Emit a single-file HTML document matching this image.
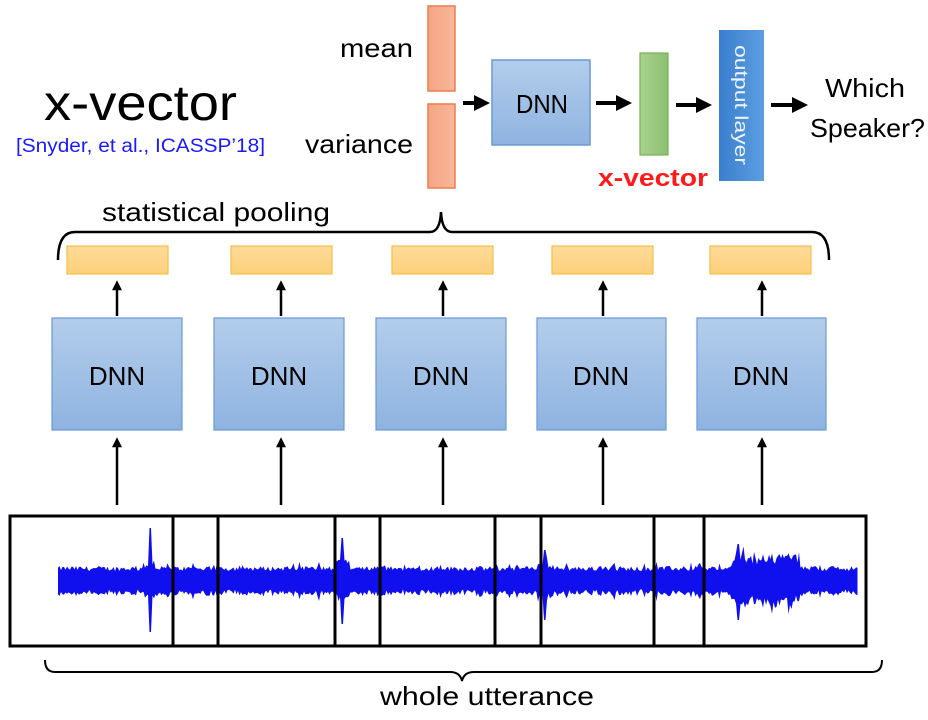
<!DOCTYPE html>
<html><head><meta charset="utf-8"><style>
body{margin:0;background:#fff}
svg{display:block}
text{font-family:"Liberation Sans",sans-serif}
</style></head><body>
<svg width="928" height="720" viewBox="0 0 928 720" xmlns="http://www.w3.org/2000/svg">
<defs>
<linearGradient id="bl" x1="0" y1="0" x2="0" y2="1"><stop offset="0" stop-color="#b3cdeb"/><stop offset="1" stop-color="#8fb3e0"/></linearGradient>
<linearGradient id="or" x1="0" y1="0" x2="1" y2="0"><stop offset="0" stop-color="#f4a582"/><stop offset="1" stop-color="#f8b79a"/></linearGradient>
<linearGradient id="gr" x1="0" y1="0" x2="1" y2="0"><stop offset="0" stop-color="#a9d18e"/><stop offset="1" stop-color="#8cc070"/></linearGradient>
<linearGradient id="ob" x1="0" y1="0" x2="1" y2="0"><stop offset="0" stop-color="#3a7fcf"/><stop offset="1" stop-color="#5c9ee0"/></linearGradient>
<linearGradient id="ye" x1="0" y1="0" x2="0" y2="1"><stop offset="0" stop-color="#fedb9a"/><stop offset="1" stop-color="#fdd07a"/></linearGradient>
<marker id="ah" markerWidth="4" markerHeight="4" refX="2.5" refY="2" orient="auto" markerUnits="strokeWidth"><path d="M0,0 L4,2 L0,4 z" fill="#000"/></marker>
</defs>

<text x="44" y="120" font-size="50" textLength="193" lengthAdjust="spacingAndGlyphs">x-vector</text>
<text x="16" y="152" font-size="19" fill="#1a1aff" textLength="249" lengthAdjust="spacingAndGlyphs">[Snyder, et al., ICASSP’18]</text>
<text x="340" y="57" font-size="26" textLength="73" lengthAdjust="spacingAndGlyphs">mean</text>
<text x="305" y="153" font-size="26" textLength="108" lengthAdjust="spacingAndGlyphs">variance</text>

<rect x="428" y="6" width="27" height="85" fill="url(#or)" stroke="#ed7d4f" stroke-width="1.5"/>
<rect x="428" y="104" width="27" height="84" fill="url(#or)" stroke="#ed7d4f" stroke-width="1.5"/>
<rect x="492" y="60" width="98" height="85" fill="url(#bl)" stroke="#6a9ad6" stroke-width="1.5"/>
<text x="516" y="113" font-size="26" textLength="52" lengthAdjust="spacingAndGlyphs">DNN</text>
<rect x="640" y="53" width="28" height="102" fill="url(#gr)" stroke="#78b05a" stroke-width="1.2"/>
<rect x="719" y="30" width="45" height="151" fill="url(#ob)"/>
<text x="0" y="0" font-size="18" fill="#eef4ff" transform="translate(735,45) rotate(90)" textLength="120" lengthAdjust="spacingAndGlyphs">output layer</text>
<text x="598" y="186" font-size="24" font-weight="bold" fill="#ff1a1a" textLength="110" lengthAdjust="spacingAndGlyphs">x-vector</text>
<text x="825" y="97" font-size="26" textLength="80" lengthAdjust="spacingAndGlyphs">Which</text>
<text x="810" y="137" font-size="26" textLength="115" lengthAdjust="spacingAndGlyphs">Speaker?</text>

<g stroke="#000" stroke-width="4" fill="none" marker-end="url(#ah)">
<line x1="463" y1="103" x2="484" y2="103"/>
<line x1="596" y1="103" x2="626" y2="103"/>
<line x1="676" y1="105" x2="706" y2="105"/>
<line x1="771" y1="105" x2="802" y2="105"/>
</g>

<text x="102" y="221" font-size="26" textLength="228" lengthAdjust="spacingAndGlyphs">statistical pooling</text>
<path d="M58,260 Q58,232 75,232 L430,232 Q440,232 441,212 Q442,232 452,232 L812,232 Q829,232 829,260" fill="none" stroke="#000" stroke-width="2.5"/>

<g fill="url(#ye)" stroke="#f5c04a" stroke-width="1.2">
<rect x="67" y="246" width="101" height="28"/>
<rect x="231" y="246" width="101" height="28"/>
<rect x="392" y="246" width="101" height="28"/>
<rect x="552" y="246" width="101" height="28"/>
<rect x="710" y="246" width="101" height="28"/>
</g>
<g fill="url(#bl)" stroke="#6a9ad6" stroke-width="1.2">
<rect x="52" y="318" width="130" height="112"/>
<rect x="214" y="318" width="130" height="112"/>
<rect x="376" y="318" width="130" height="112"/>
<rect x="537" y="318" width="129" height="112"/>
<rect x="697" y="318" width="129" height="112"/>
</g>
<g font-size="26" text-anchor="middle">
<text x="117" y="385">DNN</text><text x="279" y="385">DNN</text><text x="441" y="385">DNN</text><text x="601" y="385">DNN</text><text x="761" y="385">DNN</text>
</g>
<g stroke="#000" stroke-width="2.5" marker-end="url(#ah)">
<line x1="117" y1="316" x2="117" y2="284"/><line x1="281" y1="316" x2="281" y2="284"/><line x1="443" y1="316" x2="443" y2="284"/><line x1="603" y1="316" x2="603" y2="284"/><line x1="762" y1="316" x2="762" y2="284"/>
<line x1="117" y1="505" x2="117" y2="441"/><line x1="281" y1="505" x2="281" y2="441"/><line x1="443" y1="505" x2="443" y2="441"/><line x1="603" y1="505" x2="603" y2="441"/><line x1="762" y1="505" x2="762" y2="441"/>
</g>

<path id="wave" fill="#1010ee" d=""/>

<g fill="none" stroke="#000" stroke-width="3">
<rect x="10" y="516" width="856" height="130"/>
<line x1="173" y1="516" x2="173" y2="646"/><line x1="218" y1="516" x2="218" y2="646"/>
<line x1="335" y1="516" x2="335" y2="646"/><line x1="380" y1="516" x2="380" y2="646"/>
<line x1="495" y1="516" x2="495" y2="646"/><line x1="541" y1="516" x2="541" y2="646"/>
<line x1="654" y1="516" x2="654" y2="646"/><line x1="704" y1="516" x2="704" y2="646"/>
</g>

<path d="M45,660 Q45,672 55,672 L450,672 Q460,672 462,681 Q464,672 474,672 L872,672 Q882,672 882,660" fill="none" stroke="#000" stroke-width="2"/>
<text x="380" y="705" font-size="26" textLength="214" lengthAdjust="spacingAndGlyphs">whole utterance</text>

<script>
(function(){
var s=12345;function r(){s=(s*1103515245+12345)%2147483648;return s/2147483648;}
var top=[],bot=[],cy=580;
var spikes={150:[52,52],342:[42,44],545:[30,40],738:[36,40]};
for(var x=58;x<=858;x+=1.5){
 var a=9+r()*5; if(r()<0.08)a+=6*r();
 var bTop=a,bBot=a+r()*3;
 if(x>735&&x<800){bTop+=12*r()+4;bBot+=12*r()+4;}
 for(var k in spikes){var d=Math.abs(x-k);if(d<2){bTop=Math.max(bTop,spikes[k][0]);bBot=Math.max(bBot,spikes[k][1]);}else if(d<8){bTop+=8*r();bBot+=6*r();}}
 top.push(x.toFixed(1)+","+(cy-bTop).toFixed(1));
 bot.unshift(x.toFixed(1)+","+(cy+bBot).toFixed(1));
}
document.getElementById('wave').setAttribute('d','M'+top.join(' L')+' L'+bot.join(' L')+' Z');
})();
</script>
</svg>
</body></html>
